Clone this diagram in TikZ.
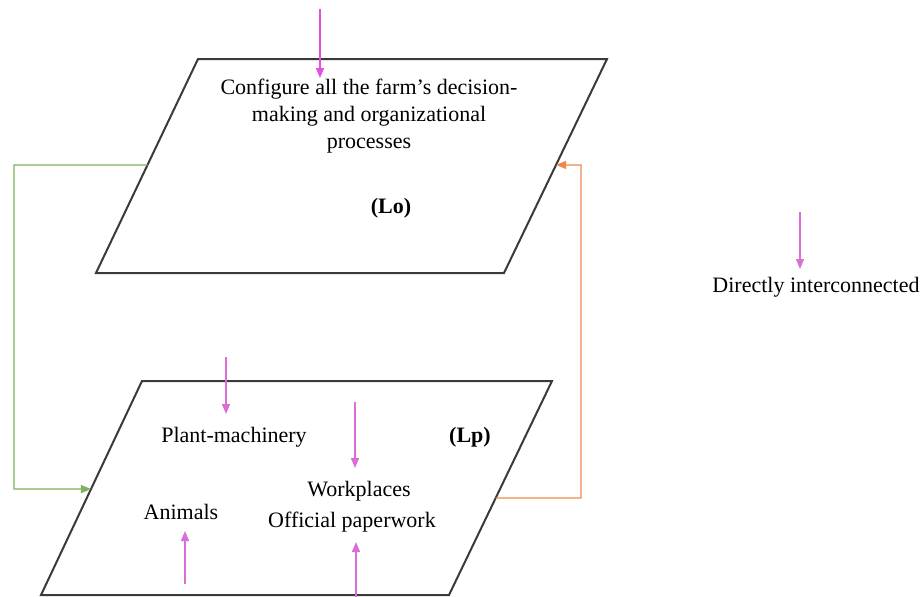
\documentclass[tikz,border=0pt]{standalone}
\usepackage{fontspec}
\setmainfont{Liberation Serif}
\usetikzlibrary{arrows.meta,calc}
\definecolor{frame}{HTML}{3A3A3A}
\definecolor{mag}{HTML}{E34FE0}
\definecolor{orch}{HTML}{D86ED6}
\definecolor{grn}{HTML}{7DB25A}
\definecolor{org}{HTML}{EC8A4E}
\tikzset{
  plane/.style={draw=frame, line width=2pt, line join=miter},
  txt/.style={inner sep=0pt, align=center, font=\fontsize{22}{27}\selectfont},
  bold/.style={txt, font=\fontsize{22}{27}\selectfont\bfseries},
  link/.style={line width=1.3pt, -{Triangle[length=10pt,width=8pt]}},
}
\begin{document}
\begin{tikzpicture}[x=1pt,y=-1pt]
\useasboundingbox (0,0) rectangle (921,597);
% top plane
\coordinate (oTL) at (198,59);
\coordinate (oTR) at (607,59);
\coordinate (oBR) at (504,273);
\coordinate (oBL) at (96,273);
\draw[plane] (oTL) -- (oTR) -- (oBR) -- (oBL) -- cycle;
% lower plane
\coordinate (pTL) at (142,381);
\coordinate (pTR) at (552,381);
\coordinate (pBR) at (449,595);
\coordinate (pBL) at (41,595);
\draw[plane] (pTL) -- (pTR) -- (pBR) -- (pBL) -- cycle;

% texts
\node[txt] (conf) at (369,116) {Configure all the farm's decision-\\making and organizational\\processes};
\node[bold] (lo) at (391,208) {(Lo)};
\node[txt] (plant) at (234,437) {Plant-machinery};
\node[bold] (lp) at (470,437) {(Lp)};
\node[txt] (work) at (359,491) {Workplaces};
\node[txt] (paper) at (352,522) {Official paperwork};
\node[txt] (anim) at (181,512) {Animals};
\node[txt] (legend) at (816,287) {Directly interconnected};

% magenta arrows
\coordinate (a0s) at (320,9);   \coordinate (a0e) at (320,78);
\draw[link, mag] (a0s) -- (a0e);
\coordinate (a1s) at (226,357); \coordinate (a1e) at (226,414);
\draw[link, orch] (a1s) -- (a1e);
\coordinate (a2s) at (355,402); \coordinate (a2e) at (355,468);
\draw[link, orch] (a2s) -- (a2e);
\coordinate (a3s) at (185,584); \coordinate (a3e) at (185,531);
\draw[link, orch] (a3s) -- (a3e);
\coordinate (a4s) at (356,597); \coordinate (a4e) at (356,542);
\draw[link, orch] (a4s) -- (a4e);
\coordinate (lgs) at (800,212); \coordinate (lge) at (800,269);
\draw[link, orch] (lgs) -- (lge);

% green feedback
\coordinate (gS) at ($(oTL)!0.495!(oBL)$);
\coordinate (gE) at ($(pTL)!0.505!(pBL)$);
\draw[link, grn, line width=1.2pt] (gS) -- (14,165) |- (gE);
% orange feedback
\coordinate (oS) at ($(pTR)!0.547!(pBR)$);
\coordinate (oE) at ($(oTR)!0.495!(oBR)$);
\draw[link, org, line width=1.2pt] (oS) -- (581,498) |- (oE);
\end{tikzpicture}
\end{document}
